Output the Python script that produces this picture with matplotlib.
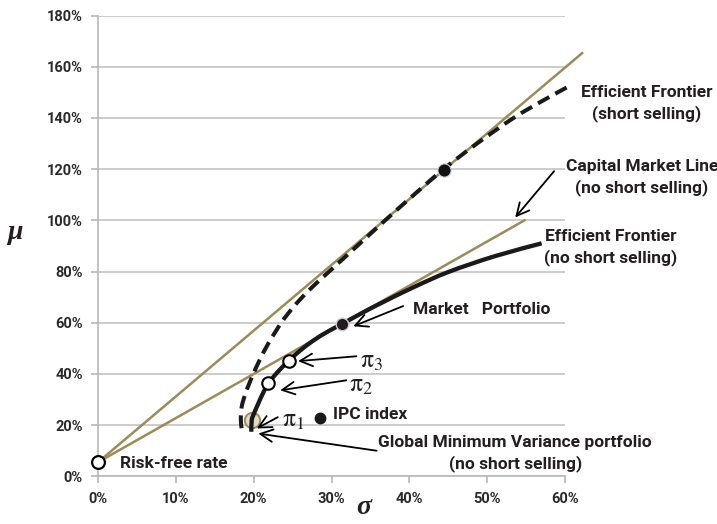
import matplotlib
matplotlib.use("Agg")
import matplotlib.pyplot as plt
from matplotlib.ticker import FuncFormatter
from matplotlib.path import Path
from matplotlib.patches import PathPatch

plt.rcParams["mathtext.fontset"] = "stix"

# ---- data (sigma %, mu %) ----
rf_sigma, rf_mu = 0.0, 5.5

ef_short_sigma = [18.45, 18.35, 18.45, 18.9, 19.4, 19.95, 20.7, 21.9, 23.55, 24.8, 26.25,
                  27.9, 29.7, 33.3, 36.9, 40.6, 44.4, 48.7, 53.4, 57.3, 60.9]
ef_short_mu = [18.8, 22.0, 27.0, 32.0, 36.0, 40.0, 45.0, 52.0, 60.0, 65.0, 70.0,
               75.0, 80.0, 90.0, 100.0, 110.0, 120.0, 130.0, 140.0, 147.0, 153.0]

ef_noshort_sigma = [19.7, 19.75, 20.05, 20.6, 21.2, 21.9, 23.1, 24.5, 26.0, 27.7, 29.5,
                    31.4, 33.8, 36.2, 40.5, 45.0, 51.0, 57.0]
ef_noshort_mu = [17.4, 22.0, 24.6, 28.5, 32.5, 36.4, 40.8, 45.1, 49.2, 53.1, 56.5,
                 59.6, 63.6, 67.4, 73.8, 79.8, 86.0, 91.0]

cml_short_sigma = [0.0, 62.2]
cml_short_mu = [5.5, 165.3]
cml_noshort_sigma = [0.0, 54.8]
cml_noshort_mu = [5.5, 100.0]

tangency_short = (44.5, 119.7)
market_portfolio = (31.4, 59.6)
gmv = (19.75, 22.0)
pi2 = (21.9, 36.4)
pi3 = (24.5, 45.1)
ipc = (28.5, 22.6)

x_ticks = [0, 10, 20, 30, 40, 50, 60]
y_ticks = [0, 20, 40, 60, 80, 100, 120, 140, 160, 180]

# ---- styles ----
OLIVE = "#9b8b5b"
INK = "#231f20"
GRID = "#c4c4c4"
LABEL_FONT = ["Roboto", "DejaVu Sans"]


def smooth_curve(xs, ys):
    """Smoothed polyline through the given points (Catmull-Rom as cubic Beziers)."""
    pts = list(zip(xs, ys))
    ext = [pts[0]] + pts + [pts[-1]]
    verts = [pts[0]]
    codes = [Path.MOVETO]
    for i in range(1, len(ext) - 2):
        p0, p1, p2, p3 = ext[i - 1], ext[i], ext[i + 1], ext[i + 2]
        c1 = (p1[0] + (p2[0] - p0[0]) / 6, p1[1] + (p2[1] - p0[1]) / 6)
        c2 = (p2[0] - (p3[0] - p1[0]) / 6, p2[1] - (p3[1] - p1[1]) / 6)
        verts += [c1, c2, p2]
        codes += [Path.CURVE4] * 3
    return Path(verts, codes)


fig = plt.figure(figsize=(7.17, 5.24), dpi=100)
ax = fig.add_axes([0.1367, 0.0910, 0.6513, 0.8794])

ax.set_xlim(0, 60)
ax.set_ylim(0, 180)
ax.set_xticks(x_ticks)
ax.set_yticks(y_ticks)
pct = FuncFormatter(lambda v, p: f"{v:.0f}%")
ax.xaxis.set_major_formatter(pct)
ax.yaxis.set_major_formatter(pct)
ax.grid(axis="y", color=GRID, lw=1.2, zorder=0)
ax.set_axisbelow(True)
for s in ("top", "right"):
    ax.spines[s].set_visible(False)
for s in ("left", "bottom"):
    ax.spines[s].set_color("#b8b8b8")
    ax.spines[s].set_linewidth(1.2)
ax.tick_params(axis="both", direction="out", length=5, width=1.2, color="#b8b8b8",
               labelcolor="#2a2a2a", labelsize=10.5, pad=6)
for lab in ax.get_xticklabels() + ax.get_yticklabels():
    lab.set_fontfamily(LABEL_FONT)
    lab.set_fontweight("bold")

# capital market lines
ax.plot(cml_short_sigma, cml_short_mu, color=OLIVE, lw=1.8, zorder=2, clip_on=False)
ax.plot(cml_noshort_sigma, cml_noshort_mu, color=OLIVE, lw=1.8, zorder=2, clip_on=False)

# GMV marker sits under the frontier curve
ax.plot(*gmv, "o", ms=11, mfc="#e4dccb", mec=OLIVE, mew=1.4, zorder=3)

# efficient frontiers
ax.add_patch(PathPatch(smooth_curve(ef_short_sigma, ef_short_mu), fill=False,
                       edgecolor="#1a1a1a", lw=2.9, linestyle=(0, (3.2, 1.7)),
                       capstyle="butt", zorder=4, clip_on=False))
ax.add_patch(PathPatch(smooth_curve(ef_noshort_sigma, ef_noshort_mu), fill=False,
                       edgecolor="#1a1a1a", lw=3.1, capstyle="butt", zorder=4))

# points
ax.plot(rf_sigma, rf_mu, "o", ms=9.2, mfc="white", mec="black", mew=1.6, zorder=6,
        clip_on=False)
ax.plot(*tangency_short, "o", ms=9.5, mfc="#111111", mec="#cfcfcf", mew=0.8, zorder=6)
ax.plot(*market_portfolio, "o", ms=9, mfc="#1e1e1e", mec="#d8c6d2", mew=1.0, zorder=6)
ax.plot(*pi2, "o", ms=9, mfc="white", mec="black", mew=1.5, zorder=6)
ax.plot(*pi3, "o", ms=9, mfc="white", mec="black", mew=1.5, zorder=6)
ax.plot(*ipc, "o", ms=7.5, mfc="#1a1a1a", mec="#1a1a1a", zorder=6)

# text labels
tkw = dict(color=INK, fontsize=12.5, fontfamily=LABEL_FONT, fontweight="bold",
           linespacing=1.4, zorder=7)
ax.text(70.5, 145.5, "Efficient Frontier\n(short selling)", ha="center", va="center",
        multialignment="center", **tkw)
ax.text(69.9, 116.8, "Capital Market Line\n(no short selling)", ha="center",
        va="center", multialignment="center", **tkw)
ax.text(65.9, 89.5, "Efficient Frontier\n(no short selling)", ha="center", va="center",
        multialignment="center", **tkw)
ax.text(40.5, 65.1, "Market   Portfolio", ha="left", va="center", **tkw)
ax.text(30.2, 24.2, "IPC index", ha="left", va="center", **tkw)
ax.text(53.6, 8.8, "Global Minimum Variance portfolio\n(no short selling)",
        ha="center", va="center", multialignment="center", **tkw)
ax.text(2.8, 5.2, "Risk-free rate", ha="left", va="center", **tkw)

pkw = dict(color=INK, fontsize=18.5, zorder=7, ha="left", va="center")
ax.text(33.6, 45.3, r"$\mathrm{\pi}_3$", **pkw)
ax.text(32.3, 35.8, r"$\mathrm{\pi}_2$", **pkw)
ax.text(23.7, 22.3, r"$\mathrm{\pi}_1$", **pkw)

# arrows
akw = dict(arrowstyle="->,head_length=0.9,head_width=0.45", color="black", lw=1.3,
           shrinkA=0, shrinkB=0)
arrows = [
    ((58.6, 119.2), (53.6, 101.1)),
    ((39.2, 66.5), (32.8, 58.6)),
    ((33.2, 46.9), (25.7, 45.0)),
    ((31.9, 37.5), (23.4, 33.6)),
    ((23.1, 23.1), (20.4, 18.7)),
    ((35.8, 10.0), (20.6, 16.7)),
]
for tail, head in arrows:
    ax.annotate("", xy=head, xytext=tail, arrowprops=akw, annotation_clip=False,
                zorder=7)

# axis symbols
fig.text(15 / 717, 1 - 232 / 524, "μ", fontsize=20, fontfamily="Liberation Serif",
         fontstyle="italic", fontweight="bold", color=INK, ha="center", va="center")
fig.text(364 / 717, 1 - 508 / 524, "σ", fontsize=20, fontfamily="Liberation Serif",
         fontstyle="italic", fontweight="bold", color=INK, ha="center", va="center")

fig.savefig("out.png", dpi=100)
